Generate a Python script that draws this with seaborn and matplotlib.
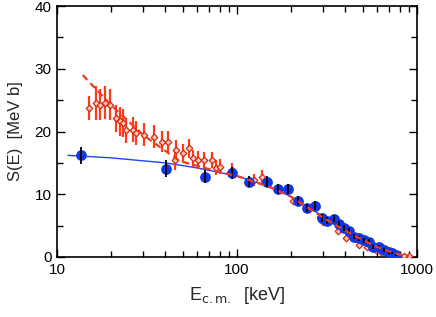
import numpy as np
import pandas as pd
import seaborn as sns
import matplotlib.pyplot as plt
from matplotlib.ticker import FixedLocator, MultipleLocator, NullFormatter

# red data set (diamonds)
red_E = [15.0, 16.4, 17.3, 18.5, 19.7, 21.2, 22.4, 23.2, 24.1, 26.4, 27.4, 30.3,
         34.5, 38.2, 41.2, 45.1, 45.6, 49.9, 53.9, 56.7, 60.4, 65.2, 73.1, 76.9,
         80.0, 94.4, 125, 138, 205, 290, 300, 365, 404, 477, 529, 593, 632, 700,
         795, 847, 903]
red_S = [23.7, 24.6, 24.3, 24.6, 24.3, 22.1, 21.6, 21.4, 20.2, 20.3, 19.7, 19.5,
         19.2, 18.4, 18.4, 15.5, 17.0, 16.5, 17.3, 15.7, 15.5, 15.4, 15.5, 14.2,
         14.4, 13.9, 12.3, 12.8, 9.0, 6.3, 5.5, 4.2, 3.0, 1.9, 1.6, 1.1, 0.8, 0.6,
         0.1, 0.1, 0.1]
red_err = [1.9, 2.7, 2.5, 2.6, 2.4, 2.2, 2.3, 2.2, 2.0, 2.0, 1.9, 1.8,
           1.8, 1.7, 1.7, 1.6, 1.6, 1.5, 1.5, 1.4, 1.4, 1.3, 1.3, 1.2,
           1.2, 1.1, 1.0, 1.0, 0.6, 0.4, 0.4, 0.3, 0.3, 0.2, 0.2, 0.2, 0.1, 0.1,
           0.1, 0.1, 0.1]

# blue data set (filled circles)
blue_E = [13.6, 40.2, 66.1, 93.3, 117, 146, 168, 193, 219, 246, 272, 298, 317,
          347, 370, 394, 420, 448, 477, 509, 542, 570, 616, 656, 700, 727, 765]
blue_S = [16.2, 14.1, 12.8, 13.4, 12.0, 12.0, 10.9, 10.9, 9.0, 7.8, 8.2, 6.2, 5.8,
          6.1, 5.3, 4.6, 4.2, 3.2, 3.0, 2.7, 2.4, 1.6, 1.6, 1.1, 0.8, 0.6, 0.3]
blue_err = [1.3, 1.3, 1.0, 1.0, 0.9, 0.9, 0.8, 0.8, 0.7, 0.7, 0.7, 0.6, 0.6,
            0.6, 0.5, 0.5, 0.5, 0.4, 0.4, 0.4, 0.4, 0.3, 0.3, 0.3, 0.3, 0.2, 0.2]

# curves
blue_fit_E = [11.5, 20, 40, 60, 100, 150, 200, 300, 400, 500, 600, 700, 800]
blue_fit_S = [16.2, 15.8, 15.0, 14.2, 12.9, 11.3, 9.6, 6.5, 4.4, 2.9, 1.8, 1.0, 0.4]
red_fit_E = [13.9, 20, 30, 37, 48, 70, 103, 150, 200, 300, 400, 500, 600, 700, 800, 900]
red_fit_S = [29.0, 24.2, 19.5, 17.6, 15.3, 14.0, 12.8, 11.2, 9.6, 6.3, 4.2, 2.7, 1.6, 0.9, 0.4, 0.1]

x_minor = [20, 30, 40, 50, 60, 70, 80, 90, 200, 300, 400, 500, 600, 700, 800, 900]
y_minor = [5, 15, 25, 35]

sns.set_style("ticks")
plt.rcParams['font.family'] = ['Liberation Sans', 'DejaVu Sans']

fig, ax = plt.subplots(figsize=(4.36, 3.17), dpi=100)
fig.subplots_adjust(left=0.1307, right=0.9564, bottom=0.1893, top=0.981)

red_c = '#f03a1c'
blue_c = '#1236e6'

ax.set_xscale('log')
ax.set_xlim(10, 1000)
ax.set_ylim(0, 40)

sns.lineplot(x=blue_fit_E, y=blue_fit_S, ax=ax, color='#2244ff', lw=1.0, zorder=2)

ax.errorbar(red_E, red_S, yerr=red_err, fmt='none', ecolor='#ff3a1a', elinewidth=1.6,
            capsize=0, zorder=3)
sns.scatterplot(x=red_E, y=red_S, ax=ax, marker='D', s=11, facecolor='#ffc8b8',
                edgecolor='#d42a12', linewidth=0.9, zorder=4)

ax.errorbar(blue_E, blue_S, yerr=blue_err, fmt='none', ecolor='black', elinewidth=1.3,
            capsize=0, zorder=6)
sns.scatterplot(x=blue_E, y=blue_S, ax=ax, marker='o', s=60, color=blue_c,
                edgecolor=blue_c, linewidth=0, zorder=5)

sns.lineplot(x=red_fit_E, y=red_fit_S, ax=ax, color=red_c, lw=1.6, zorder=7)
ax.lines[-1].set_dashes([3, 2])

for sp in ax.spines.values():
    sp.set_linewidth(1.2)
    sp.set_color('black')
ax.set_xlabel(r'E$_{\rm c.m.}$  [keV]', fontsize=13, labelpad=6)
ax.set_ylabel('S(E)  [MeV b]', fontsize=12, labelpad=8)

ax.set_xlim(10, 1000)
ax.set_ylim(0, 40)
ax.xaxis.set_major_locator(FixedLocator([10, 100, 1000]))
ax.xaxis.set_minor_locator(FixedLocator(x_minor))
ax.set_xticklabels(['10', '100', '1000'])
ax.xaxis.set_minor_formatter(NullFormatter())
ax.yaxis.set_major_locator(MultipleLocator(10))
ax.yaxis.set_minor_locator(FixedLocator(y_minor))
ax.yaxis.set_minor_formatter(NullFormatter())
ax.tick_params(which='both', direction='in', top=True, right=True, bottom=True,
               left=True, color='black', labelcolor='black')
ax.tick_params(which='major', length=6, width=1, labelsize=11, pad=4)
ax.tick_params(which='minor', length=4, width=1)

fig.savefig('out.png', dpi=100)
